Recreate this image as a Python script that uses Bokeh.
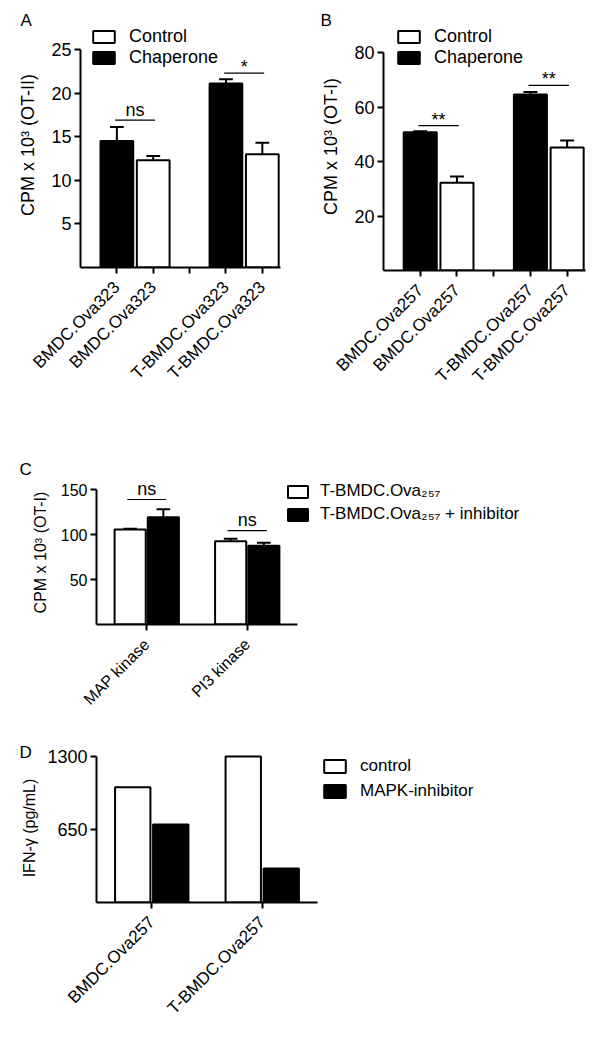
import math
from bokeh.plotting import figure
from bokeh.layouts import column, row
from bokeh.models import Range1d, FixedTicker, Legend, LegendItem, ColumnDataSource
from bokeh.core.properties import value
from bokeh.embed import file_html
from bokeh.resources import INLINE

FONT = "Liberation Sans"

# ---------------- data ----------------
# Panel A (OT-II)
a_ticks = ["BMDC.Ova323", "BMDC.Ova323", "", "T-BMDC.Ova323", "T-BMDC.Ova323"]
a_series = ["Chaperone", "Control", "", "Chaperone", "Control"]
a_means = [14.5, 12.3, None, 21.1, 13.0]
a_sem = [1.6, 0.5, None, 0.5, 1.3]
a_sig_text = ["ns", "*"]
a_sig_y = [16.9, 22.3]
a_yticks = [5, 10, 15, 20, 25]

# Panel B (OT-I)
b_ticks = ["BMDC.Ova257", "BMDC.Ova257", "", "T-BMDC.Ova257", "T-BMDC.Ova257"]
b_series = ["Chaperone", "Control", "", "Chaperone", "Control"]
b_means = [50.7, 32.2, None, 64.6, 45.1]
b_sem = [0.4, 2.3, None, 0.9, 2.6]
b_sig_text = ["**", "**"]
b_sig_y = [53.2, 67.9]
b_yticks = [20, 40, 60, 80]

# Panel C
c_cats = ["MAP kinase", "PI3 kinase"]
c_ctrl = [105.6, 92.6]
c_ctrl_sem = [0.7, 2.6]
c_inh = [119.3, 87.4]
c_inh_sem = [8.8, 3.3]
c_sig_text = ["ns", "ns"]
c_sig_y = [138.9, 104.4]
c_yticks = [50, 100, 150]

# Panel D
d_cats = ["BMDC.Ova257", "T-BMDC.Ova257"]
d_ctrl = [1027, 1300]
d_inh = [695, 303]
d_yticks = [650, 1300]


def make_fig(fw, fh, xr, yr, ml, mr, mt, mb):
    p = figure(frame_width=fw, frame_height=fh,
               x_range=Range1d(*xr), y_range=Range1d(*yr),
               min_border_left=ml, min_border_right=mr,
               min_border_top=mt, min_border_bottom=mb,
               output_backend="svg", toolbar_location=None,
               outline_line_color=None, background_fill_color="white",
               border_fill_color="white")
    p.xgrid.visible = False
    p.ygrid.visible = False
    return p


def style_axes(p, fs_tick, fs_xtick, fs_title, ytitle, yticks, ybounds, xbounds, xticks, xlabels,
               title_standoff):
    for ax in (p.xaxis[0], p.yaxis[0]):
        ax.axis_line_width = 2
        ax.axis_line_color = "black"
        ax.major_tick_line_width = 2
        ax.major_tick_line_color = "black"
        ax.major_tick_out = 6
        ax.major_tick_in = 0
        ax.minor_tick_line_color = None
        ax.major_label_text_font = FONT
        ax.major_label_text_color = "black"
    ya = p.yaxis[0]
    ya.major_label_text_font_size = fs_tick
    ya.ticker = FixedTicker(ticks=yticks)
    ya.bounds = ybounds
    ya.axis_label = ytitle
    ya.axis_label_text_font = FONT
    ya.axis_label_text_font_style = "normal"
    ya.axis_label_text_font_size = fs_title
    ya.axis_label_text_color = "black"
    ya.axis_label_standoff = title_standoff
    ya.major_label_standoff = 3
    xa = p.xaxis[0]
    xa.major_label_text_font_size = fs_xtick
    xa.ticker = FixedTicker(ticks=xticks)
    xa.bounds = xbounds
    xa.major_label_overrides = {t: lab for t, lab in zip(xticks, xlabels)}
    xa.major_label_orientation = math.pi / 4
    xa.major_label_standoff = 11


def panel_label(p, txt, offset, standoff):
    t = p.title
    t.text = txt
    t.align = "left"
    t.offset = offset
    t.standoff = standoff
    t.text_font = FONT
    t.text_font_size = "17px"
    t.text_font_style = "normal"
    t.text_color = "black"


def sig_marks(p, x0s, x1s, ys, texts, fs):
    # pixel nudges so "ns" sits just above the line and asterisks a little higher
    offs = [-6 if "*" in t else -10.5 for t in texts]
    src = ColumnDataSource(dict(x0=x0s, x1=x1s, y=ys,
                                xm=[(a + b) / 2 for a, b in zip(x0s, x1s)],
                                off=offs, t=texts))
    p.segment(x0="x0", y0="y", x1="x1", y1="y", source=src, line_color="black", line_width=1.2)
    p.text(x="xm", y="y", text="t", source=src, y_offset="off", text_font=value(FONT),
           text_font_size=fs, text_align="center", text_baseline="alphabetic", text_color="black")


def make_legend(items, loc, gw, gh, spacing, standoff, fs):
    return Legend(items=[LegendItem(label=l, renderers=[r]) for l, r in items],
                  location=loc, orientation="vertical",
                  glyph_width=gw, glyph_height=gh, label_height=gh, spacing=spacing,
                  label_standoff=standoff, padding=0, margin=0,
                  label_text_font=FONT, label_text_font_size=fs, label_text_color="black",
                  border_line_color=None, background_fill_alpha=0)


def grouped_panel(ticks, series, means, sems, sig_text, sig_y, yticks, ytop, ytitle,
                  fw, fh, ml, mr, legend_xy):
    pos = [i + 1 for i in range(len(ticks))]
    p = make_fig(fw, fh, (0, 5.5), (0, ytop), ml, mr, 22, 402 - 22 - fh)
    rends = {}
    for name, fill in (("Control", "white"), ("Chaperone", "black")):
        xs = [x for x, s, m in zip(pos, series, means) if s == name and m is not None]
        ys = [m for s, m in zip(series, means) if s == name and m is not None]
        es = [e for s, e, m in zip(series, sems, means) if s == name and m is not None]
        tops = [y + e for y, e in zip(ys, es)]
        p.segment(x0=xs, y0=ys, x1=xs, y1=tops, line_color="black", line_width=2)
        p.segment(x0=[x - 0.19 for x in xs], y0=tops, x1=[x + 0.19 for x in xs], y1=tops,
                  line_color="black", line_width=2)
        rends[name] = p.vbar(x=xs, top=ys, bottom=0, width=0.9, fill_color=fill,
                             line_color="black", line_width=2)
    # significance bars: one per condition, spanning its two bars
    conds = []
    for x, t, m in zip(pos, ticks, means):
        if m is None:
            continue
        if not conds or conds[-1][0] != t:
            conds.append([t, x, x])
        else:
            conds[-1][2] = x
    sig_marks(p, [c[1] - 0.05 for c in conds], [c[2] + 0.05 for c in conds], sig_y, sig_text, "18px")
    style_axes(p, "18px", "17px", "18px", ytitle, yticks, (0, yticks[-1]), (0, 5.5), pos, ticks, 10)
    p.add_layout(make_legend([("Control", rends["Control"]), ("Chaperone", rends["Chaperone"])],
                             legend_xy, 27, 15, -2, 12, "18px"), "center")
    return p


pA = grouped_panel(a_ticks, a_series, a_means, a_sem, a_sig_text, a_sig_y, a_yticks, 245 / 8.72,
                   "CPM x 10\u00b3 (OT-II)", 200, 245, 80, 30, (10, 199))
panel_label(pA, "A", -60, -15)

pB = grouped_panel(b_ticks, b_series, b_means, b_sem, b_sig_text, b_sig_y, b_yticks, 248 / 2.725,
                   "CPM x 10\u00b3 (OT-I)", 202, 248, 73, 9, (12, 202))
panel_label(pB, "B", -63, -15)

# ---------------- Panel C ----------------
pC = make_fig(490, 144, (0.5, 0.5 + 490 / 100.5), (0, 160), 96, 8, 78, 96)
cx = [i + 1 for i in range(len(c_cats))]
off, bw = 0.165, 0.31
cw = [x - off for x in cx]
ck = [x + off for x in cx]
for xs, ys, es in ((cw, c_ctrl, c_ctrl_sem), (ck, c_inh, c_inh_sem)):
    tops = [y + e for y, e in zip(ys, es)]
    pC.segment(x0=xs, y0=ys, x1=xs, y1=tops, line_color="black", line_width=2)
    pC.segment(x0=[x - 0.068 for x in xs], y0=tops, x1=[x + 0.068 for x in xs], y1=tops,
               line_color="black", line_width=2)
rc1 = pC.vbar(x=cw, top=c_ctrl, bottom=0, width=bw, fill_color="white", line_color="black", line_width=2)
rc2 = pC.vbar(x=ck, top=c_inh, bottom=0, width=bw, fill_color="black", line_color="black", line_width=2)
sig_marks(pC, [x - 0.03 for x in cw], [x + 0.03 for x in ck], c_sig_y, c_sig_text, "18px")
style_axes(pC, "16px", "16px", "16px", "CPM x 10\u00b3 (OT-I)", c_yticks, (0, 150), (0.5, 2.5), cx,
           c_cats, 9)
pC.add_layout(make_legend([("T-BMDC.Ova\u2082\u2085\u2087", rc1),
                           ("T-BMDC.Ova\u2082\u2085\u2087 + inhibitor", rc2)],
                          (189, 100), 25, 15, 3, 10, "17px"), "center")
panel_label(pC, "C", -77, 3)

# ---------------- Panel D ----------------
pD = make_fig(490, 149, (0.5, 0.5 + 490 / 110.5), (0, 149 / 0.11231), 96, 8, 33, 128)
dx = [i + 1 for i in range(len(d_cats))]
doff, dbw = 0.172, 0.32
rd1 = pD.vbar(x=[x - doff for x in dx], top=d_ctrl, bottom=0, width=dbw, fill_color="white",
              line_color="black", line_width=2)
rd2 = pD.vbar(x=[x + doff for x in dx], top=d_inh, bottom=0, width=dbw, fill_color="black",
              line_color="black", line_width=2)
style_axes(pD, "18px", "17px", "16px", "IFN-\u03b3 (pg/mL)", d_yticks, (0, 1300), (0.5, 2.5), dx,
           d_cats, 6)
pD.add_layout(make_legend([("control", rd1), ("MAPK-inhibitor", rd2)],
                          (225, 101), 27, 16, 5, 12, "17px"), "center")
panel_label(pD, "D", -77, -16)

layout = column(row(pA, pB, spacing=0), pC, pD, spacing=0)
open("out.html", "w").write(file_html(layout, INLINE))
